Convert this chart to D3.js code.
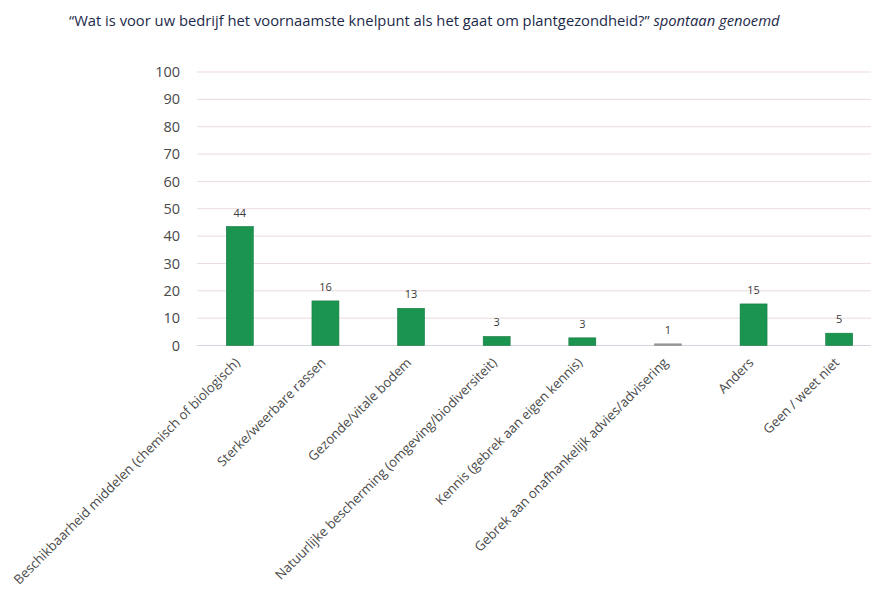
<!DOCTYPE html>
<html>
<head>
<meta charset="utf-8">
<script src="https://cdn.jsdelivr.net/npm/d3@7"></script>
<style>
  body { margin: 0; background: #fff; }
  svg { display: block; font-family: "Open Sans", sans-serif; }
</style>
</head>
<body>
<svg id="chart"></svg>
<script>
const categories = [
  'Beschikbaarheid middelen (chemisch of biologisch)',
  'Sterke/weerbare rassen',
  'Gezonde/vitale bodem',
  'Natuurlijke bescherming (omgeving/biodiversiteit)',
  'Kennis (gebrek aan eigen kennis)',
  'Gebrek aan onafhankelijk advies/advisering',
  'Anders',
  'Geen / weet niet'
];
const values = [43.5, 16.3, 13.6, 3.3, 2.8, 0.6, 15.2, 4.5];
const valueLabels = ['44', '16', '13', '3', '3', '1', '15', '5'];
const yTicks = [0, 10, 20, 30, 40, 50, 60, 70, 80, 90, 100];

const width = 871, height = 589;
const plot = { left: 197, right: 882, top: 72, bottom: 345.5 };

const svg = d3.select('#chart')
  .attr('width', width)
  .attr('height', height);

// Title
const title = svg.append('text')
  .attr('x', 69)
  .attr('y', 26)
  .attr('font-size', 14.75)
  .attr('fill', '#1c2a4a');
title.append('tspan').text('\u201CWat is voor uw bedrijf het voornaamste knelpunt als het gaat om plantgezondheid?\u201D ');
title.append('tspan').attr('font-style', 'italic').text('spontaan genoemd');

const x = d3.scaleBand()
  .domain(categories)
  .range([plot.left, plot.right])
  .paddingInner(0.685)
  .paddingOuter(0.3425);

const y = d3.scaleLinear()
  .domain([0, 100])
  .range([plot.bottom, plot.top]);

// Gridlines
svg.append('g')
  .selectAll('line')
  .data(yTicks)
  .join('line')
  .attr('x1', plot.left)
  .attr('x2', plot.right)
  .attr('y1', d => y(d))
  .attr('y2', d => y(d))
  .attr('stroke', d => d === 0 ? '#d3d6de' : '#ecd9de')
  .attr('stroke-width', 1);

// Y axis labels
const yAxis = svg.append('g')
  .attr('transform', `translate(${plot.left - 17},0)`)
  .call(d3.axisLeft(y).tickValues(yTicks).tickSize(0).tickPadding(0));
yAxis.select('.domain').remove();
yAxis.selectAll('text')
  .attr('font-family', '"Open Sans", sans-serif')
  .attr('font-size', 14.5)
  .attr('fill', '#4a4a4a');

// Bars
svg.append('g')
  .selectAll('rect')
  .data(values)
  .join('rect')
  .attr('x', (d, i) => x(categories[i]))
  .attr('y', d => y(d))
  .attr('width', x.bandwidth())
  .attr('height', d => y(0) - y(d))
  .attr('fill', d => d < 1 ? '#9a9a9a' : '#1b9450')
  .attr('stroke', d => d < 1 ? '#8a8a8a' : '#157a40')
  .attr('stroke-width', 0.6);

// Value labels
svg.append('g')
  .selectAll('text')
  .data(values)
  .join('text')
  .attr('x', (d, i) => x(categories[i]) + x.bandwidth() / 2)
  .attr('y', d => y(d) - 10)
  .attr('text-anchor', 'middle')
  .attr('font-size', 11)
  .attr('fill', '#3a3a3a')
  .text((d, i) => valueLabels[i]);

// X axis labels, rotated
svg.append('g')
  .selectAll('text')
  .data(categories)
  .join('text')
  .attr('transform', d => `translate(${x(d) + x.bandwidth() / 2 + 1},${plot.bottom + 18}) rotate(-45)`)
  .attr('text-anchor', 'end')
  .attr('font-size', 13.2)
  .attr('fill', '#4a4a4a')
  .text(d => d);
</script>
</body>
</html>
